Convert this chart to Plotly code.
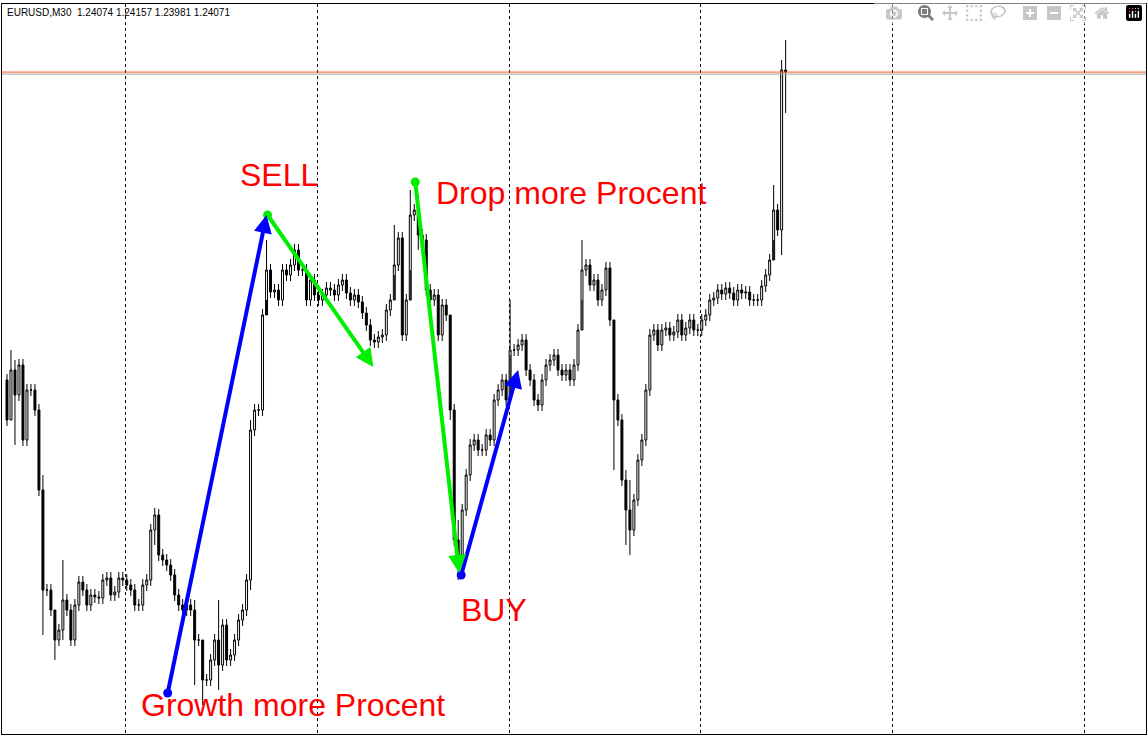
import plotly.graph_objects as go

# EURUSD M30 - closes, in "ticks" below the top of the window
# (1 tick = 0.000024, 0 = 1.24244)
BASE = 1.24244
TICK = 0.000024

closes = [420, 370, 395, 365, 440, 390, 390, 410, 490, 590,
          590, 610, 640, 630, 600, 610, 640, 605, 582, 590,
          605, 595, 597, 598, 580, 578, 595, 592, 578, 580,
          585, 590, 605, 605, 585, 580, 530, 515, 555, 560,
          565, 575, 595, 605, 610, 605, 610, 640, 640, 680,
          680, 660, 640, 665, 625, 660, 655, 640, 620, 610,
          580, 430, 410, 410, 315, 270, 292, 290, 300, 270,
          275, 265, 250, 270, 270, 300, 280, 295, 300, 295,
          288, 290, 295, 285, 280, 293, 300, 295, 302, 313,
          325, 340, 342, 337, 335, 310, 300, 265, 238, 335,
          300, 215, 210, 235, 240, 290, 300, 295, 335, 305,
          315, 410, 540, 555, 510, 475, 445, 440, 450, 450,
          435, 440, 400, 390, 380, 400, 350, 350, 345, 340,
          370, 380, 400, 405, 380, 365, 360, 355, 370, 375,
          370, 380, 365, 330, 270, 265, 285, 280, 300, 290,
          268, 320, 400, 420, 480, 510, 530, 500, 460, 440,
          390, 335, 330, 345, 330, 328, 335, 332, 320, 335,
          328, 320, 330, 330, 320, 315, 300, 298, 290, 294,
          288, 293, 300, 290, 293, 292, 300, 300, 300, 286,
          275, 260, 210, 230, 70, 72]
first_open = 380
# notable wicks (candle index: (high, low)), others get a short tail
wicks = {1: (350, 420), 2: (360, 445), 9: (475, 635), 12: (620, 660), 14: (560, 640),
         37: (508, 545), 47: (600, 685), 49: (640, 705), 53: (600, 690), 61: (420, 590),
         65: (240, 300), 97: (225, 275), 101: (190, 270), 103: (195, 250), 111: (320, 420),
         113: (520, 580), 126: (300, 355), 144: (240, 300), 152: (390, 470), 155: (470, 545),
         156: (480, 555), 192: (185, 240), 194: (60, 255), 195: (40, 113)}

header = "EURUSD,M30  1.24074 1.24157 1.23981 1.24071"
bid_price = 1.24071

# hand-drawn objects: (x0, y0, x1, y1) as candle index / ticks
blue_arrows = [(40.25, 693, 65.0, 215), (113.75, 575, 128.0, 370)]
green_arrows = [(65.25, 215, 91.75, 367), (102.25, 182, 113.25, 573)]
labels = [("SELL", 68.0, 175, "center"), ("Drop more Procent", 107.0, 193, "left"),
          ("BUY", 122.0, 610, "center"), ("Growth more Procent", 33.0, 705, "left")]


def px(t):
    return BASE - t * TICK


idx = list(range(len(closes)))
opens = [first_open] + closes[:-1]
opens[-1] = 70
highs, lows = [], []
for i in idx:
    hi, lo = wicks.get(i, (min(opens[i], closes[i]) - 6, max(opens[i], closes[i]) + 6))
    highs.append(px(hi))
    lows.append(px(lo))

fig = go.Figure(go.Candlestick(
    x=idx, open=[px(v) for v in opens], close=[px(v) for v in closes],
    high=highs, low=lows,
    increasing=dict(fillcolor="white", line=dict(color="black", width=1)),
    decreasing=dict(fillcolor="black", line=dict(color="black", width=1)),
    whiskerwidth=0, hoverinfo="skip",
))

fig.add_hline(y=bid_price - 2 * TICK, line=dict(color="#A0A0A0", width=1))
fig.add_hline(y=bid_price, line=dict(color="#FF5A1F", width=1))

for color, arrows in (("#0000FF", blue_arrows), ("#00EE00", green_arrows)):
    for x0, y0, x1, y1 in arrows:
        fig.add_annotation(x=x1, y=px(y1), ax=x0, ay=px(y0), xref="x", yref="y",
                           axref="x", ayref="y", text="", showarrow=True,
                           arrowhead=2, arrowsize=0.9, arrowwidth=4, arrowcolor=color)
        fig.add_trace(go.Scatter(x=[x0], y=[px(y0)], mode="markers",
                                 marker=dict(color=color, size=9), hoverinfo="skip"))

for text, x, y, anchor in labels:
    fig.add_annotation(x=x, y=px(y), text=text, showarrow=False, xanchor=anchor,
                       font=dict(family="Liberation Sans, Arial", size=32, color="#FF0000"))

fig.add_annotation(x=0.003, y=0.998, xref="paper", yref="paper", text=header,
                   showarrow=False, xanchor="left", yanchor="top",
                   font=dict(family="Liberation Sans, Arial", size=10, color="black"))

fig.update_layout(
    width=1148, height=736, margin=dict(l=2, r=2, t=4, b=2),
    paper_bgcolor="white", plot_bgcolor="white", showlegend=False,
    xaxis=dict(range=[-1.25, 285.25], rangeslider=dict(visible=False), showticklabels=False,
               showgrid=True, gridcolor="black", griddash="dot", gridwidth=1,
               tick0=29.75, dtick=48, zeroline=False, showline=True, linecolor="black",
               mirror=True, ticks=""),
    yaxis=dict(range=[px(734), px(4)], showticklabels=False, showgrid=False,
               zeroline=False, showline=True, linecolor="black", mirror=True),
)

fig.write_html("out.html", post_script="document.body.style.margin='0';")
